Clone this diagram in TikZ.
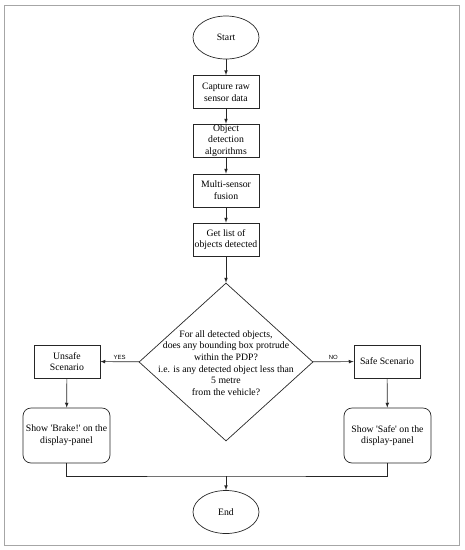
\documentclass[tikz,border=0pt]{standalone}
\usepackage{fontspec}
\setmainfont{Liberation Serif}
\newfontfamily\labelfont{Liberation Sans}
\usetikzlibrary{shapes.geometric}
\tikzset{
% Flowchart node styles: terminals, process steps, outputs, decision
term node/.style={ellipse,draw,minimum width=66pt,minimum height=43pt,inner sep=0},
proc node/.style={rectangle,draw,minimum width=66pt,minimum height=33pt,align=center,inner sep=0},
show node/.style={rectangle,draw,rounded corners=8pt,minimum width=87pt,minimum height=55pt,align=center,inner sep=0},
decision node/.style={diamond,draw,minimum width=174pt,minimum height=158pt,inner sep=0},
branch label/.style={font=\labelfont\fontsize{6}{7}\selectfont,inner sep=2pt}
}

\begin{document}
\begin{tikzpicture}[x=1pt,y=-1pt,>=latex,line width=0.7pt,draw=black!85,font=\fontsize{9.75}{11.7}\selectfont]
\useasboundingbox (0,0) rectangle (465,550);
\draw[gray!70,line width=0.9pt] (4.5,5) rectangle (459,545);

\node[term node] (start) at (226,37.5) {Start};
\node[proc node] (capture) at (226,92) {Capture raw\\sensor data};
\node[proc node] (detect) at (226,140.5) {Object\\detection\\algorithms};
\node[proc node] (fusion) at (226,190.5) {Multi-sensor\\fusion};
\node[proc node] (list) at (226,239.5) {Get list of\\objects detected};
\node[decision node] (check) at (226,362) {};
\node[align=center] (question) at (226,363) {For all detected objects,\\does any bounding box protrude\\within the PDP?\\i.e. is any detected object less than\\5 metre\\from the vehicle?};
\node[proc node] (unsafe) at (67,361.5) {Unsafe\\Scenario};
\node[proc node] (safe) at (387,361.5) {Safe Scenario};
\node[show node] (brake) at (66.5,435.5) {Show \textquotesingle Brake!\textquotesingle\ on the\\display-panel};
\node[show node] (showsafe) at (387.5,435.5) {Show \textquotesingle Safe\textquotesingle\ on the\\display-panel};
\node[term node] (end) at (226,512) {End};
\coordinate (join) at (226,476);

\path [->] (start) edge (capture);
\path [->] (capture) edge (detect);
\path [->] (detect) edge (fusion);
\path [->] (fusion) edge (list);
\path [->] (list) edge (check);
\path [->] (check) edge node[branch label,above] {YES} (unsafe);
\path [->] (check) edge node[branch label,above] {NO} (safe);
\path [->] (unsafe) edge (brake);
\path [->] (safe) edge (showsafe);
\draw (brake) |- (join) -| (showsafe);
\path [->] (join) edge (end);
\end{tikzpicture}
\end{document}
